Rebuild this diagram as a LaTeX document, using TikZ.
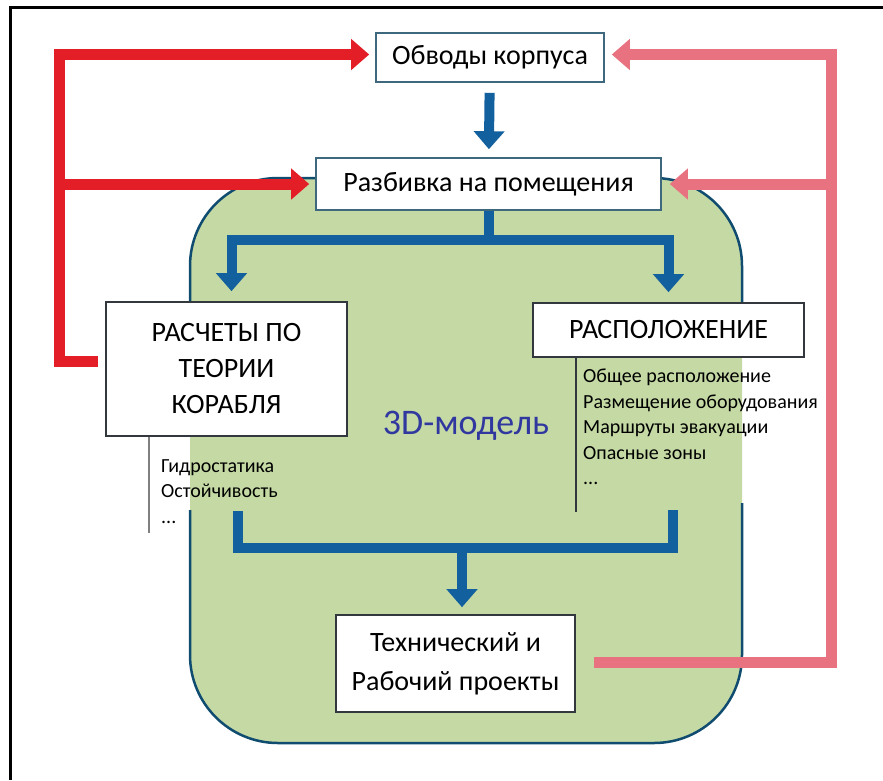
\documentclass[tikz,border=0pt]{standalone}
\usepackage{fontspec}
\setmainfont{Carlito}
\usetikzlibrary{arrows.meta}
\definecolor{redc}{RGB}{228,30,38}
\definecolor{pinkc}{RGB}{232,114,128}
\definecolor{greenc}{RGB}{196,217,164}
\definecolor{rimc}{RGB}{16,76,112}
\definecolor{pipec}{RGB}{18,96,158}
\definecolor{txtblue}{RGB}{48,56,160}
\definecolor{boxrim}{RGB}{62,104,126}
\definecolor{grayrim}{RGB}{50,56,62}

\begin{document}
\begin{tikzpicture}[x=1pt,y=-1pt,font=\fontsize{28}{37}\selectfont,
    box/.style={draw=boxrim,line width=1.6pt,fill=white,inner sep=0pt,align=center},
    pipe/.style={draw=pipec,line width=10pt},
    pipearr/.style={pipe,-{Triangle[length=18pt,width=30pt]}},
    redarr/.style={draw=redc,line width=11pt,-{Triangle[length=18pt,width=30pt]}},
    pinkarr/.style={draw=pinkc,line width=11pt,-{Triangle[length=18pt,width=30pt]}},
    listtext/.style={font=\fontsize{20}{25.5}\selectfont,align=left,inner sep=0pt,anchor=north west}]
  \useasboundingbox (0,0) rectangle (883,780);
  \draw[line width=3pt] (10,780) -- (10,7) -- (883,7);

  % green area
  \fill[greenc,rounded corners=88pt] (190,178) rectangle (742,743);
  \draw[rimc,line width=2.5pt,rounded corners=88pt] (190,510) -- (190,743) -- (742,743) -- (742,503);
  \draw[rimc,line width=2.5pt,rounded corners=88pt] (742,303) -- (742,178) -- (190,178) -- (190,303);
  \node[text=txtblue,font=\fontsize{36}{40}\selectfont] (model) at (466,426) {3D-модель};

  % boxes
  \node[box,minimum width=228,minimum height=49] (obv) at (490,57.5) {Обводы корпуса};
  \node[box,minimum width=345,minimum height=52] (razb) at (488.5,184) {Разбивка на помещения};
  \node[box,draw=grayrim,minimum width=241,minimum height=134,font=\fontsize{28}{36}\selectfont] (calc) at (226.5,369) {РАСЧЕТЫ ПО\\ТЕОРИИ\\КОРАБЛЯ};
  \node[box,draw=grayrim,minimum width=271,minimum height=54] (layout) at (668.5,330) {РАСПОЛОЖЕНИЕ};
  \node[box,draw=grayrim,minimum width=239,minimum height=97,font=\fontsize{28}{39}\selectfont] (proj) at (455.5,663.5) {Технический и\\Рабочий проекты};

  % lists
  \draw[gray,line width=1.5pt] (calc.south -| 149,0) -- (149,533);
  \node[listtext] (calclist) at (161,459) {Гидростатика\\Остойчивость\\...};
  \draw[grayrim,line width=1.5pt] (layout.south -| 576,0) -- (576,512);
  \node[listtext] (layoutlist) at (583,369) {Общее расположение\\Размещение оборудования\\Маршруты эвакуации\\Опасные зоны\\...};

  % blue flow
  \draw[pipearr,shorten <=10pt,shorten >=8pt] (obv) -- (razb);
  \coordinate (topfork) at (488.5,240);
  \draw[pipearr] (razb.south) -- (topfork) -| ([xshift=5pt,yshift=10pt]calc.north);
  \draw[pipearr] (razb.south) -- (topfork) -| ([yshift=10pt]layout.north);
  \coordinate (lfoot) at (238,511);
  \coordinate (rfoot) at (673,510);
  \coordinate (botfork) at (462,548);
  \draw[pipe] (lfoot) |- (botfork) -| (rfoot);
  \draw[pipearr] (botfork) -- ([xshift=6.5pt,yshift=7pt]proj.north);

  % red feedback
  \coordinate (redcorner) at (59,361);
  \draw[redarr] ([xshift=-7pt]calc.west |- redcorner) -- (redcorner) |- ([xshift=-6pt,yshift=3pt]obv.west);
  \draw[redarr] (redcorner |- razb.west) -- ([xshift=-6pt]razb.west);

  % pink feedback
  \coordinate (pinkcorner) at (831,662);
  \draw[pinkarr] ([xshift=18pt]proj.east |- pinkcorner) -- (pinkcorner) |- ([xshift=7pt,yshift=3pt]obv.east);
  \draw[pinkarr] (pinkcorner |- razb.east) -- ([xshift=8pt]razb.east);
\end{tikzpicture}
\end{document}
